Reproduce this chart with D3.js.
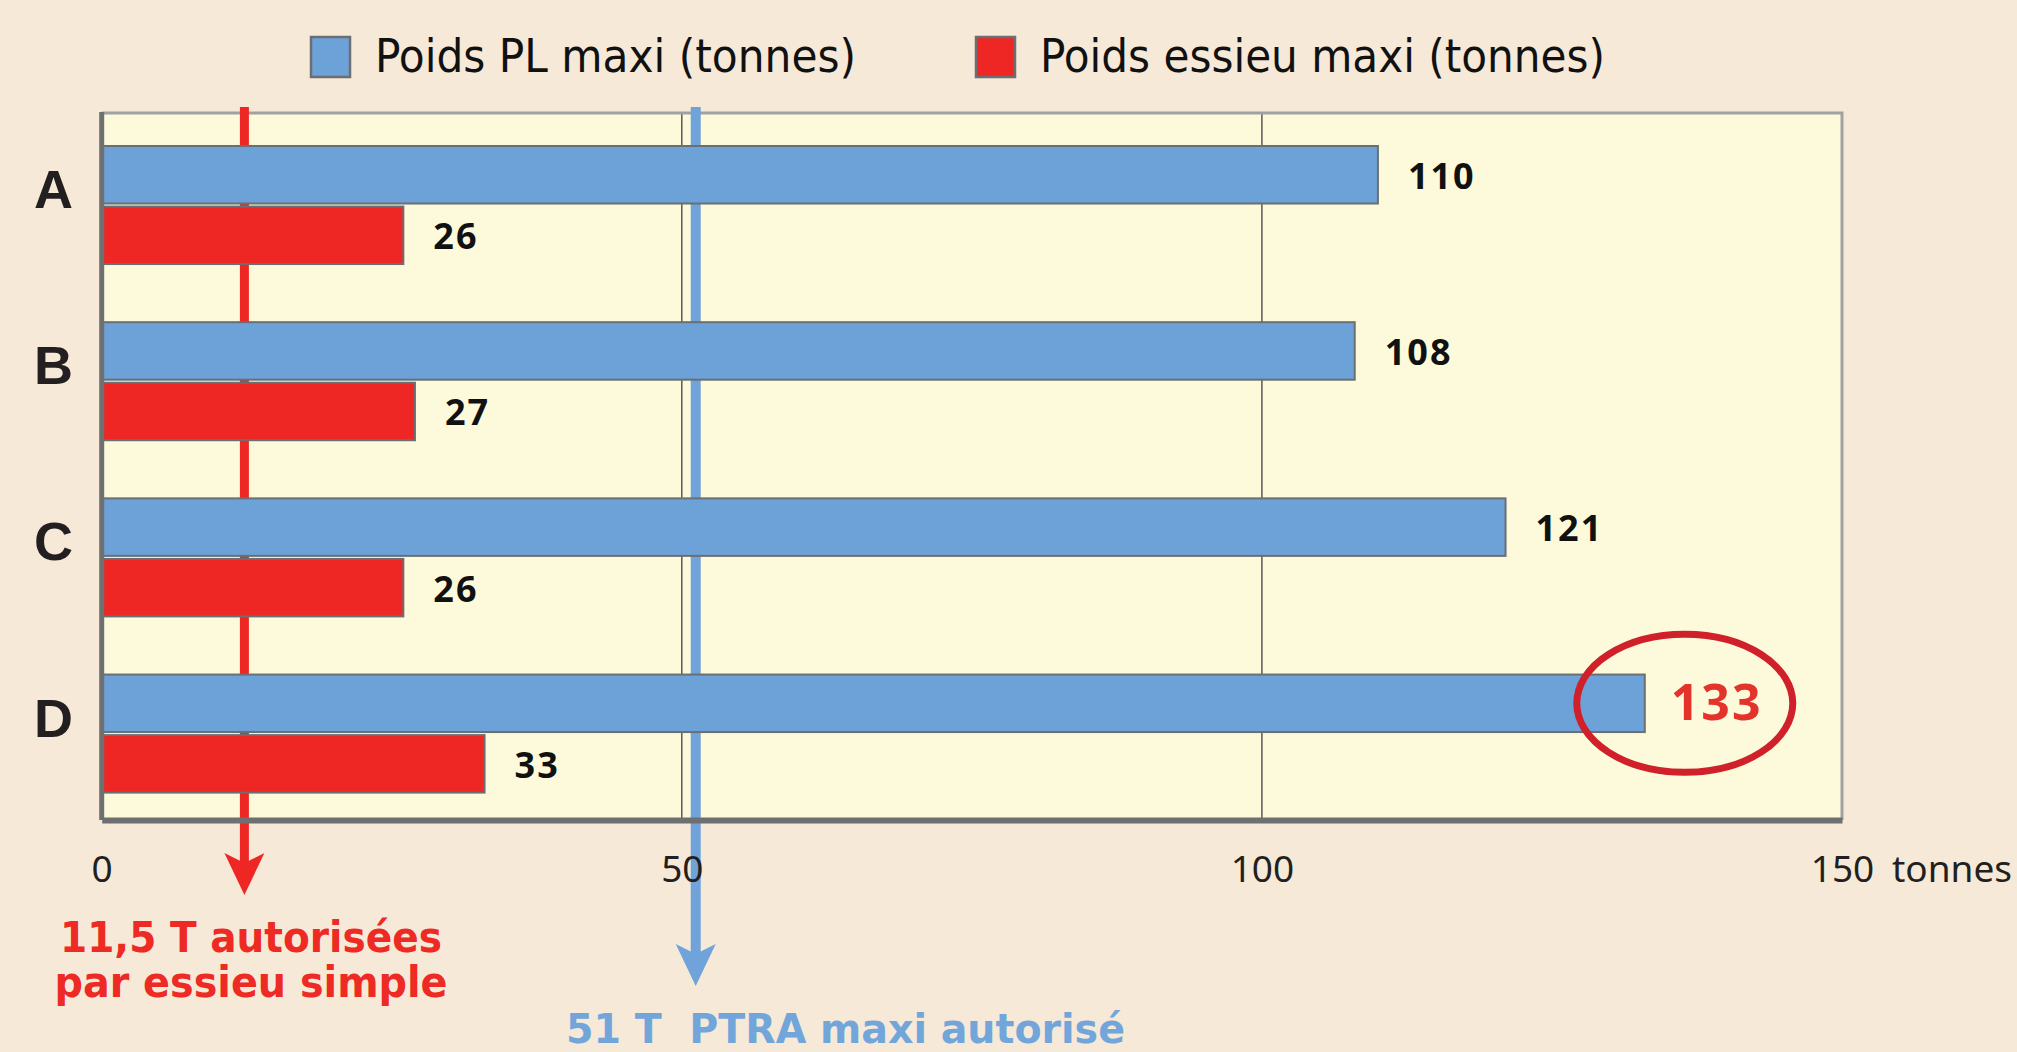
<!DOCTYPE html>
<html>
<head>
<meta charset="utf-8">
<script src="https://cdn.jsdelivr.net/npm/d3@7"></script>
<style>
  html, body { margin: 0; padding: 0; background: #F6E9D8; overflow: hidden; }
  svg { display: block; }
</style>
</head>
<body>
<div id="chart"></div>
<script>
// Data
// ============================================================================
const categories = ["A", "B", "C", "D"];
const poidsPL = [110, 108, 121, 133];
const poidsEssieu = [26, 27, 26, 33];
const seriesNames = ["Poids PL maxi (tonnes)", "Poids essieu maxi (tonnes)"];
const xTicks = [0, 50, 100, 150];
const xUnit = "tonnes";
const highlighted = "D";
// limit lines: drawn position (as in the picture) and their captions
const limitEssieu = 12.3;
const limitEssieuText = ["11,5 T autorisées", "par essieu simple"];
const limitPTRA = 51.2;
const limitPTRAText = "51 T  PTRA maxi autorisé";

// Layout
// ============================================================================
const W = 2017, H = 1052,
    plot = {left: 101.7, right: 1842, top: 113, bottom: 820},
    colors = {pl: "#6CA2D8", essieu: "#EE2724", stroke: "#6D6E71",
              blueLine: "#6FA3DA", redText: "#EE2A24", blueText: "#72A6DA",
              ring: "#D0212A", ringText: "#E3332A"},
    narrow = "'Liberation Sans Narrow', 'DejaVu Sans Condensed', 'Liberation Sans', sans-serif";

const data = categories.map((c, i) => ({cat: c, pl: poidsPL[i], essieu: poidsEssieu[i]}));

const svg = d3.select("#chart").append("svg")
    .attr("width", W)
    .attr("height", H);

svg.append("rect").attr("width", W).attr("height", H).attr("fill", "#F6E9D8");

// Scales
const x = d3.scaleLinear().domain([0, 150]).range([plot.left, plot.right]);
const y = d3.scaleBand().domain(categories).range([146, 792.6]).paddingInner(0.33).paddingOuter(0);
const ySub = d3.scaleBand().domain(["pl", "essieu"]).range([0, y.bandwidth()]).paddingInner(0.05);

// Plot background
svg.append("rect")
    .attr("x", plot.left).attr("y", plot.top)
    .attr("width", plot.right - plot.left).attr("height", plot.bottom - plot.top)
    .attr("fill", "#FCFADB");

// Grid lines
svg.selectAll(".grid")
    .data(xTicks.slice(1, -1))
    .enter().append("line")
        .attr("x1", d => x(d)).attr("x2", d => x(d))
        .attr("y1", plot.top).attr("y2", plot.bottom)
        .attr("stroke", "#58595B").attr("stroke-width", 1.5);

// Top / right frame
svg.append("path")
    .attr("d", `M${plot.left},${plot.top}H${plot.right}V${plot.bottom}`)
    .attr("fill", "none").attr("stroke", "#9FA1A4").attr("stroke-width", 3);

// Limit lines with arrows
function limitLine(v, tipY, color, width) {
    const cx = x(v);
    svg.append("line")
        .attr("x1", cx).attr("x2", cx)
        .attr("y1", 107).attr("y2", tipY - 30)
        .attr("stroke", color).attr("stroke-width", width);
    svg.append("path")
        .attr("d", `M${cx},${tipY}L${cx - 20},${tipY - 42}L${cx},${tipY - 32}L${cx + 20},${tipY - 42}Z`)
        .attr("fill", color);
}
limitLine(limitEssieu, 895, colors.essieu, 9);
limitLine(limitPTRA, 986, colors.blueLine, 10);

// Bars
const groups = svg.selectAll(".group")
    .data(data)
    .enter().append("g")
        .attr("transform", d => "translate(0," + y(d.cat) + ")");

["pl", "essieu"].forEach(k => {
    groups.append("rect")
        .attr("x", x(0))
        .attr("y", ySub(k))
        .attr("width", d => x(d[k]) - x(0))
        .attr("height", ySub.bandwidth())
        .attr("fill", colors[k])
        .attr("stroke", colors.stroke)
        .attr("stroke-width", 2);

    groups.filter(d => !(k === "pl" && d.cat === highlighted))
        .append("text")
            .attr("x", d => x(d[k]) + 30)
            .attr("y", ySub(k) + ySub.bandwidth() / 2 + 14)
            .attr("font-family", "'Noto Sans', 'Open Sans', sans-serif")
            .attr("font-weight", "bold")
            .attr("font-size", 36)
            .attr("letter-spacing", 2)
            .attr("fill", "#111")
            .text(d => d[k]);
});

// Highlighted value with ring
const hi = data.find(d => d.cat === highlighted),
    hiY = y(hi.cat) + ySub("pl") + ySub.bandwidth() / 2;
svg.append("ellipse")
    .attr("cx", x(hi.pl) + 40).attr("cy", hiY)
    .attr("rx", 108).attr("ry", 69)
    .attr("fill", "none").attr("stroke", colors.ring).attr("stroke-width", 7);
svg.append("text")
    .attr("x", x(hi.pl) + 26)
    .attr("y", hiY + 17)
    .attr("font-family", "'Noto Sans', 'Open Sans', sans-serif")
    .attr("font-weight", "bold")
    .attr("font-size", 50)
    .attr("letter-spacing", 2)
    .attr("fill", colors.ringText)
    .text(hi.pl);

// Category labels
svg.selectAll(".cat")
    .data(categories)
    .enter().append("text")
        .attr("x", 34)
        .attr("y", d => y(d) + 62)
        .attr("font-family", "'Liberation Sans', Arial, sans-serif")
        .attr("font-weight", "bold")
        .attr("font-size", 54)
        .attr("fill", "#231F20")
        .text(d => d);

// Left frame
svg.append("line")
    .attr("x1", plot.left).attr("x2", plot.left)
    .attr("y1", plot.top - 1).attr("y2", plot.bottom)
    .attr("stroke", "#6E6F71").attr("stroke-width", 5);

// X axis
const axis = svg.append("g")
    .attr("transform", "translate(0," + plot.bottom + ")")
    .call(d3.axisBottom(x).tickValues(xTicks).tickSize(0).tickPadding(36));
axis.select(".domain").attr("stroke", "#6E6F71").attr("stroke-width", 6);
axis.selectAll("text")
    .attr("font-family", "'Noto Sans', 'Open Sans', sans-serif")
    .attr("font-size", 37)
    .attr("fill", "#231F20");
svg.append("text")
    .attr("x", x(150) + 50)
    .attr("y", 882)
    .attr("font-family", "'Noto Sans', 'Open Sans', sans-serif")
    .attr("font-size", 37)
    .attr("fill", "#231F20")
    .text(xUnit);

// Legend
seriesNames.forEach((name, i) => {
    const lx = [311, 976][i];
    svg.append("rect")
        .attr("x", lx).attr("y", 37)
        .attr("width", 39).attr("height", 40)
        .attr("fill", i === 0 ? colors.pl : colors.essieu)
        .attr("stroke", colors.stroke).attr("stroke-width", 2.5);
    svg.append("text")
        .attr("x", lx + 64)
        .attr("y", 72)
        .attr("font-family", narrow)
        .attr("font-size", 46)
        .attr("textLength", [481, 565][i])
        .attr("lengthAdjust", "spacingAndGlyphs")
        .attr("fill", "#111")
        .text(name);
});

// Limit captions
limitEssieuText.forEach((t, i) => {
    svg.append("text")
        .attr("x", 251)
        .attr("y", 952 + i * 45)
        .attr("text-anchor", "middle")
        .attr("font-family", narrow)
        .attr("font-weight", "bold")
        .attr("font-size", 42)
        .attr("textLength", [382, 393][i])
        .attr("lengthAdjust", "spacingAndGlyphs")
        .attr("fill", colors.redText)
        .text(t);
});
svg.append("text")
    .attr("x", 566)
    .attr("y", 1043)
    .attr("font-family", narrow)
    .attr("font-weight", "bold")
    .attr("font-size", 40)
    .attr("textLength", 559)
    .attr("lengthAdjust", "spacingAndGlyphs")
    .attr("fill", colors.blueText)
    .style("white-space", "pre")
    .text(limitPTRAText);
</script>
</body>
</html>
